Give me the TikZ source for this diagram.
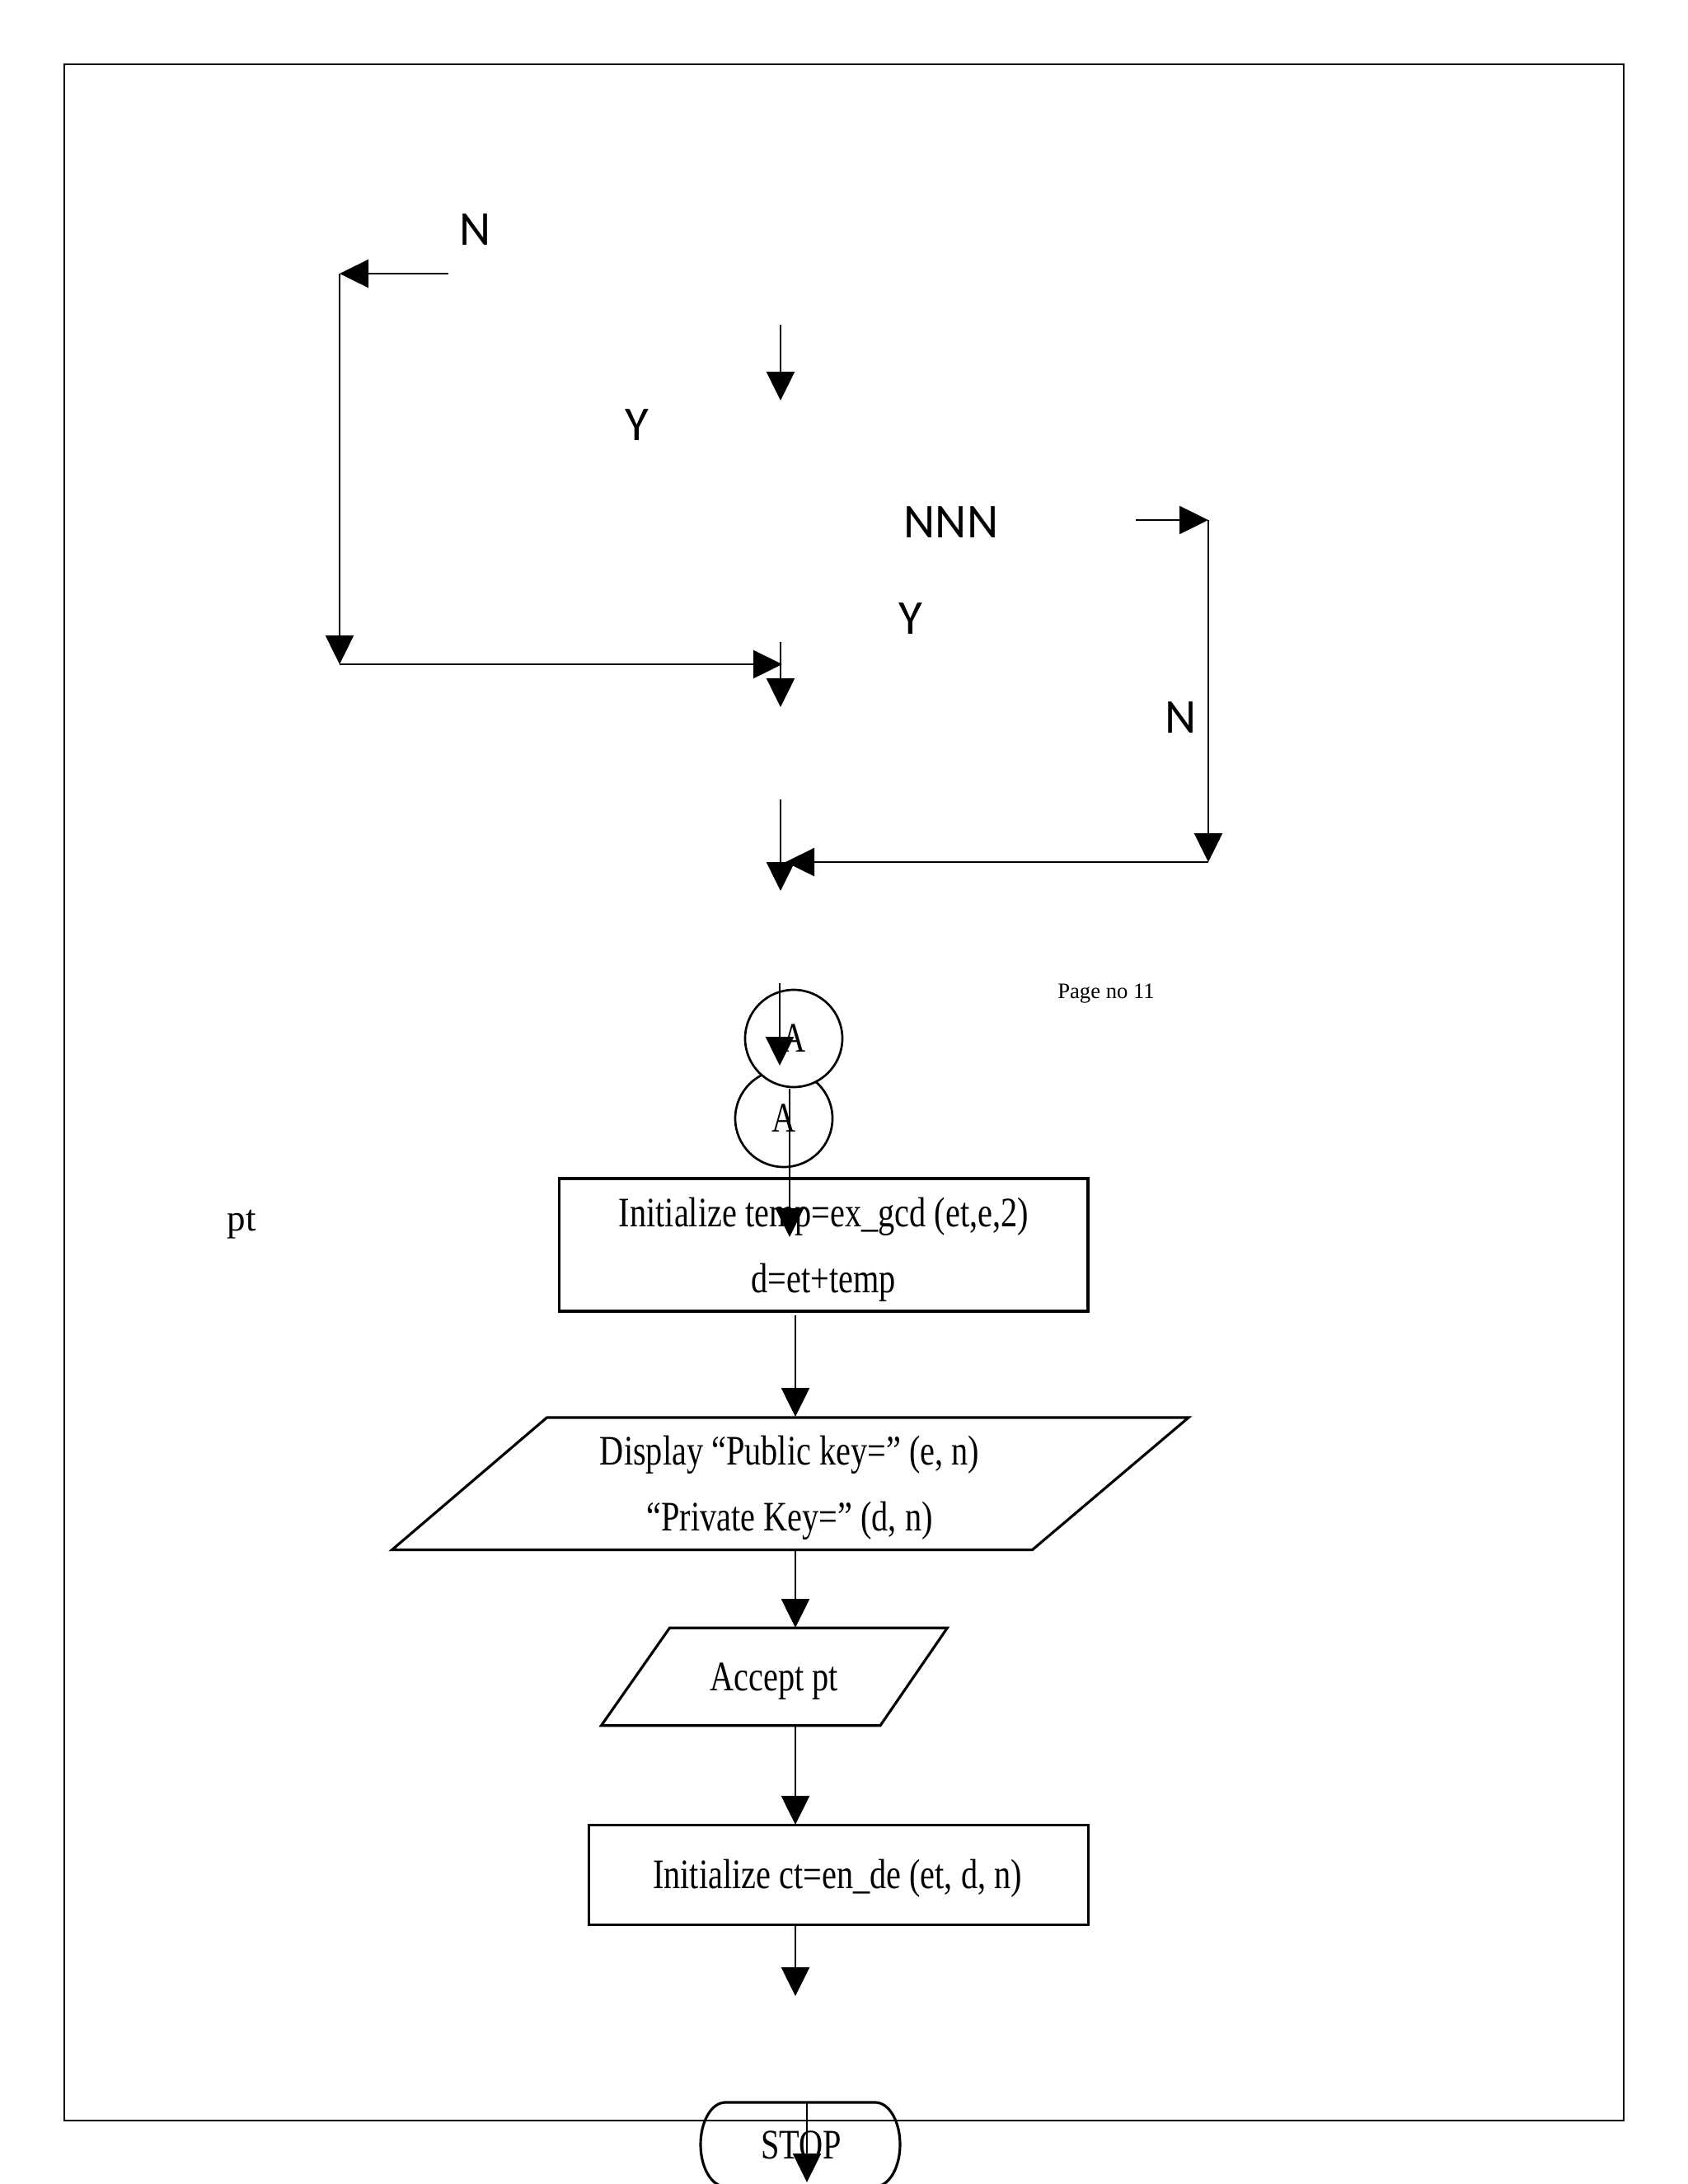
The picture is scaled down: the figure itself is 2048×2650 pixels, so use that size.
\documentclass[tikz,border=0pt]{standalone}
\usepackage{fontspec}
\setmainfont{Liberation Serif}
\newfontfamily\condfont{Liberation Serif}[FakeStretch=0.79]
\newfontfamily\calfont{Carlito}
\usetikzlibrary{arrows.meta}
\tikzset{
  arr/.style={line width=0.75pt, -{Triangle[length=10.5pt,width=10.2pt]}},
  frm/.style={draw, line width=0.6pt},
  box/.style={draw, line width=0.95pt},
  flowtext/.style={font=\condfont\fontsize{15.3}{24}\selectfont, align=center, inner sep=0pt},
  lab/.style={font=\calfont\fontsize{17.7}{20}\selectfont, inner sep=0pt},
  conn/.style={draw, line width=0.8pt, circle, minimum size=35.4pt, inner sep=0pt, fill=white,
    font=\condfont\fontsize{15.3}{18}\selectfont},
}
\begin{document}
\begin{tikzpicture}[x=0.3pt,y=-0.3pt]
\useasboundingbox (0,0) rectangle (2048,2650);
% page frame
\draw[frm] (78,78) rectangle (1970,2573);

% top-left loop
\node[lab] (lN1) at (577,279) {N};
\coordinate (a1s) at (544,332);
\coordinate (a1c) at (412,332);
\coordinate (a1d) at (412,806);
\coordinate (a1e) at (949,806);
\draw[arr] (a1s) -- (a1c);
\draw[arr] (a1c) -- (a1d);
\draw[arr] (a1d) -- (a1e);

\coordinate (v1s) at (947,394);
\coordinate (v1e) at (947,486);
\draw[arr] (v1s) -- (v1e);
\node[lab] (lY1) at (773,516) {Y};

% right loop
\node[lab] (lNNN) at (1154,634) {NNN};
\coordinate (r1s) at (1378,631);
\coordinate (r1c) at (1466,631);
\coordinate (r1d) at (1466,1046);
\coordinate (r1e) at (953,1046);
\draw[arr] (r1s) -- (r1c);
\draw[arr] (r1c) -- (r1d);
\draw[arr] (r1d) -- (r1e);
\node[lab] (lY2) at (1105,751) {Y};
\node[lab] (lN2) at (1433,871) {N};

\coordinate (v2s) at (947,779);
\coordinate (v2e) at (947,858);
\draw[arr] (v2s) -- (v2e);
\coordinate (v3s) at (947,970);
\coordinate (v3e) at (947,1081);
\draw[arr] (v3s) -- (v3e);

% page number
\node[font=\fontsize{8}{10}\selectfont, inner sep=0pt, anchor=base] (pg) at (1342,1211) {Page no 11};

% connectors
\node[conn] (A2) at (951,1357) {A};
\node[conn] (A1) at (963,1260) {A};
\coordinate (ca1s) at (946,1193);
\coordinate (ca1e) at (946,1293);
\draw[arr] (ca1s) -- (ca1e);

% pt
\node[font=\fontsize{13.5}{16}\selectfont, inner sep=0pt, anchor=base] (pt) at (293,1493) {pt};

% box 1
\node[box, minimum width=192.4pt, minimum height=48.3pt, inner sep=0pt] (b1) at (999.4,1510.5) {};
\node[flowtext] (t1) at (999.4,1516) {Initialize temp=ex\_gcd (et,e,2)\\d=et+temp};
\coordinate (ca2s) at (958,1321);
\coordinate (ca2e) at (958,1501);
\draw[arr] (ca2s) -- (ca2e);

\coordinate (b1o) at (965,1596);
\coordinate (p1i) at (965,1719);
\draw[arr] (b1o) -- (p1i);

% parallelogram 1
\draw[box] (663.5,1720) -- (1442,1720) -- (1252.5,1880.5) -- (475.6,1880.5) -- cycle;
\node[flowtext] (p1) at (958,1805) {Display “Public key=” (e, n)\\“Private Key=” (d, n)};

\coordinate (p1o) at (965,1880.5);
\coordinate (p2i) at (965,1975);
\draw[arr] (p1o) -- (p2i);

% parallelogram 2
\draw[box] (812.4,1975.3) -- (1149.3,1975.3) -- (1068,2093.7) -- (729.5,2093.7) -- cycle;
\node[flowtext] (p2) at (939.4,2040) {Accept pt};

\coordinate (p2o) at (965,2094);
\coordinate (b2i) at (965,2214);
\draw[arr] (p2o) -- (b2i);

% box 2
\node[box, minimum width=181.8pt, minimum height=36.5pt, inner sep=0pt] (b2) at (1017.3,2275) {};
\node[flowtext] (t2) at (1016,2279) {Initialize ct=en\_de (et, d, n)};
\coordinate (b2o) at (965,2336);
\coordinate (b2e) at (965,2422);
\draw[arr] (b2o) -- (b2e);

% STOP terminal
\draw[box] (880,2551) -- (1062,2551) arc[start angle=90, end angle=-90, x radius=9pt, y radius=15.3pt]
  -- (880,2653) arc[start angle=270, end angle=90, x radius=9pt, y radius=15.3pt] -- cycle;
\node[flowtext] (stop) at (972,2603) {STOP};
\coordinate (ss) at (979,2550);
\coordinate (se) at (979,2648);
\draw[arr] (ss) -- (se);
\end{tikzpicture}
\end{document}
